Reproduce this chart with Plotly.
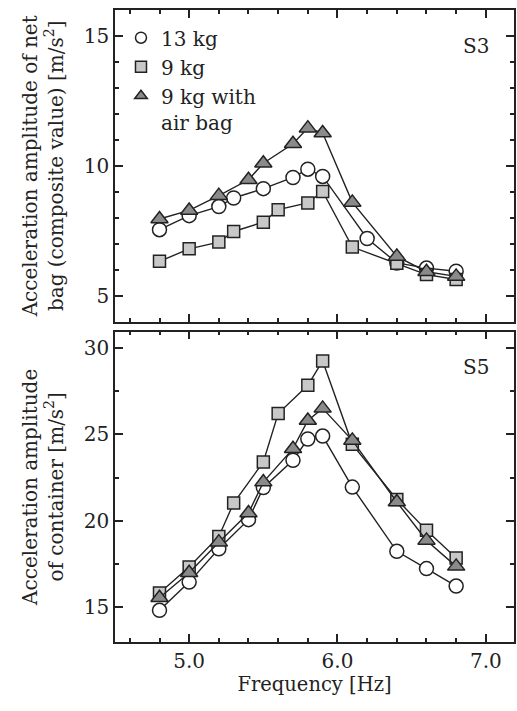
import plotly.graph_objects as go

freq_c = [4.8, 5.0, 5.2, 5.3, 5.5, 5.7, 5.8, 5.9, 6.2, 6.4, 6.6, 6.8]
freq_s = [4.8, 5.0, 5.2, 5.3, 5.5, 5.6, 5.8, 5.9, 6.1, 6.4, 6.6, 6.8]
freq_t = [4.8, 5.0, 5.2, 5.4, 5.5, 5.7, 5.8, 5.9, 6.1, 6.4, 6.6, 6.8]

s3_13kg = [7.54, 8.08, 8.43, 8.76, 9.12, 9.55, 9.87, 9.59, 7.20, 6.26, 6.06, 5.94]
s3_9kg = [6.32, 6.80, 7.06, 7.47, 7.83, 8.31, 8.57, 9.01, 6.87, 6.25, 5.81, 5.62]
s3_air = [7.95, 8.28, 8.85, 9.46, 10.10, 10.85, 11.45, 11.26, 8.59, 6.51, 5.92, 5.74]

freq5_c = [4.8, 5.0, 5.2, 5.4, 5.5, 5.7, 5.8, 5.9, 6.1, 6.4, 6.6, 6.8]
freq5_s = [4.8, 5.0, 5.2, 5.3, 5.5, 5.6, 5.8, 5.9, 6.1, 6.4, 6.6, 6.8]
freq5_t = [4.8, 5.0, 5.2, 5.4, 5.5, 5.7, 5.8, 5.9, 6.1, 6.4, 6.6, 6.8]
s5_13kg = [14.83, 16.46, 18.39, 20.07, 21.92, 23.50, 24.73, 24.90, 21.95, 18.24, 17.24, 16.23]
s5_9kg = [15.83, 17.33, 19.10, 21.03, 23.40, 26.20, 27.83, 29.24, 24.42, 21.24, 19.45, 17.85]
s5_air = [15.56, 17.00, 18.77, 20.45, 22.24, 24.17, 25.80, 26.50, 24.65, 21.09, 18.87, 17.37]

names = ["13 kg", "9 kg", "9 kg with<br>air bag"]
symbols = ["circle", "square", "triangle-up"]
fills = ["white", "#c8c8c8", "#8a8a8a"]
sizes = [14, 12, 15]
edge = "#222222"
FONT = "DejaVu Serif"

fig = go.Figure()

def add(x, y, i, xa, ya):
    fig.add_trace(go.Scatter(
        x=x, y=y, mode="lines+markers", xaxis=xa, yaxis=ya, showlegend=False,
        line=dict(color=edge, width=1.4),
        marker=dict(symbol=symbols[i], size=sizes[i], color=fills[i],
                    line=dict(color=edge, width=1.5))))

add(freq_c, s3_13kg, 0, "x", "y")
add(freq_s, s3_9kg, 1, "x", "y")
add(freq_t, s3_air, 2, "x", "y")
add(freq5_c, s5_13kg, 0, "x2", "y2")
add(freq5_s, s5_9kg, 1, "x2", "y2")
add(freq5_t, s5_air, 2, "x2", "y2")

for i in range(3):
    fig.add_trace(go.Scatter(
        x=[None], y=[None], mode="markers", name=names[i], xaxis="x", yaxis="y",
        marker=dict(symbol=symbols[i], size=11, color=fills[i],
                    line=dict(color=edge, width=1.5))))

xcommon = dict(range=[4.5, 7.19], showgrid=False, zeroline=False,
               showline=True, linecolor=edge, linewidth=1.5, mirror="ticks",
               ticks="inside", ticklen=8, tickwidth=1.5, tickcolor=edge,
               tickvals=[5.0, 6.0, 7.0],
               tickfont=dict(family=FONT, size=20),
               minor=dict(tickvals=[4.6, 4.8, 5.2, 5.4, 5.6, 5.8, 6.2, 6.4, 6.6, 6.8, 7.2],
                          ticks="inside", ticklen=4, tickwidth=1.5, tickcolor=edge))
ycommon = dict(showgrid=False, zeroline=False, showline=True, linecolor=edge,
               linewidth=1.5, mirror="ticks", ticks="inside", ticklen=8,
               tickwidth=1.5, tickcolor=edge, tickfont=dict(family=FONT, size=20))

fig.update_layout(
    template="none",
    width=517, height=711,
    margin=dict(l=115, r=3, t=10, b=69),
    paper_bgcolor="white", plot_bgcolor="white",
    font=dict(family=FONT, size=20, color=edge),
    xaxis=dict(**xcommon, domain=[0, 1], anchor="y", showticklabels=False),
    xaxis2=dict(**xcommon, domain=[0, 1], anchor="y2", tickformat=".1f",
                title=dict(text="Frequency [Hz]", standoff=6, font=dict(family=FONT, size=19.5))),
    yaxis=dict(**ycommon, domain=[0.507, 1], anchor="x", range=[4, 16],
               tickvals=[5, 10, 15],
               minor=dict(dtick=1, tick0=0, ticks="inside", ticklen=4,
                          tickwidth=1.5, tickcolor=edge),
               title=dict(text="Acceleration amplitude of net<br>bag (composite value) [m/s<sup>2</sup>]",
                          standoff=15, font=dict(size=20, family=FONT))),
    yaxis2=dict(**ycommon, domain=[0, 0.491], anchor="x2", range=[13, 30.93],
                tickvals=[15, 20, 25, 30],
                minor=dict(tickvals=[17.5, 22.5, 27.5], ticks="inside", ticklen=4,
                           tickwidth=1.5, tickcolor=edge),
                title=dict(text="Acceleration amplitude<br>of container [m/s<sup>2</sup>]",
                           standoff=15, font=dict(size=20, family=FONT))),
    legend=dict(x=0.015, y=0.987, xanchor="left", yanchor="top",
                bgcolor="rgba(0,0,0,0)", font=dict(size=20, family=FONT), valign="top",
                itemwidth=30, tracegroupgap=0),
    annotations=[
        dict(text="S3", xref="x domain", yref="y domain", x=0.905, y=0.885,
             showarrow=False, xanchor="center", yanchor="middle", font=dict(size=20, family=FONT)),
        dict(text="S5", xref="x2 domain", yref="y2 domain", x=0.905, y=0.885,
             showarrow=False, xanchor="center", yanchor="middle", font=dict(size=20, family=FONT)),
    ],
)

fig.write_html("out.html")
